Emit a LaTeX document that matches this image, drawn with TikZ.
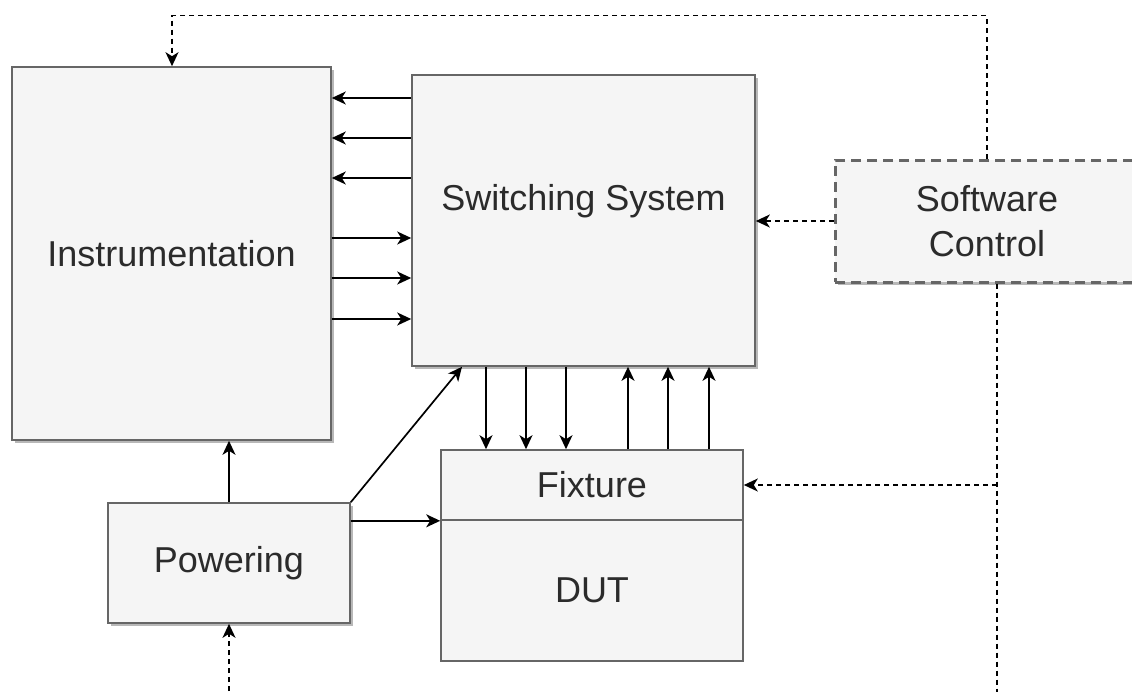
\documentclass[tikz,border=0pt]{standalone}
\usepackage{fontspec}
\setmainfont{Liberation Sans}
\usetikzlibrary{arrows.meta,shadows,calc}
\definecolor{boxfill}{HTML}{F5F5F5}
\definecolor{boxline}{HTML}{666666}
\definecolor{txt}{HTML}{2B2B2B}
\tikzset{
  block/.style={draw=boxline, fill=boxfill, line width=1.6pt, inner sep=0pt,
    text=txt, font=\fontsize{36}{45}\selectfont, align=center},
  shade3/.style={drop shadow={shadow xshift=3pt, shadow yshift=-3pt, opacity=1, fill=black!28}},
  link/.style={line width=1.7pt, -{Stealth[length=14pt,width=13pt,inset=4pt]}},
  ctrl/.style={link, dash pattern=on 5pt off 4pt},
  plain/.style={line width=1.7pt, dash pattern=on 5pt off 4pt},
}
\begin{document}
\begin{tikzpicture}[x=1pt,y=-1pt]
\useasboundingbox (0,0) rectangle (1132,691);
\clip (0,0) rectangle (1132,691);

% blocks
\node[block, shade3, minimum width=319pt, minimum height=373pt] (inst) at (171.5,253.5) {Instrumentation};
\node[block, shade3, minimum width=343pt, minimum height=291pt,
      label={[text=txt, font=\fontsize{36}{45}\selectfont, yshift=19pt]center:Switching System}] (sw) at (583.5,220.5) {};
\node[block, shade3, draw=boxline, line width=3pt, dash pattern=on 10pt off 6pt,
      minimum width=304pt, minimum height=122pt] (soft) at (987,221) {Software\\Control};
\node[block, minimum width=302pt, minimum height=141pt] (dut) at (592,590.5) {DUT};
\node[block, minimum width=302pt, minimum height=70pt] (fix) at (592,485) {Fixture};
\node[block, shade3, minimum width=242pt, minimum height=120pt] (pow) at (229,563) {Powering};

% signal lines between switching system and instrumentation
\foreach \y in {98,138,178}
  \draw[link] (sw.west |- 0,\y) -- (inst.east |- 0,\y);
\foreach \y in {238,278,319}
  \draw[link] (inst.east |- 0,\y) -- (sw.west |- 0,\y);

% signal lines between switching system and fixture
\foreach \x in {486,526,566}
  \draw[link] (sw.south -| \x,0) -- (fix.north -| \x,0);
\foreach \x in {628,668,709}
  \draw[link] (fix.north -| \x,0) -- (sw.south -| \x,0);

% power distribution
\draw[link] (pow.north) -- (inst.south -| pow.north);
\draw[link] (pow.north east) -- (sw.south -| 462,0);
\draw[link] (pow.east |- fix.south) -- (fix.south west);

% control lines
\coordinate (pin) at (229,700);
\draw[ctrl] (pin) -- (pow.south);
\draw[ctrl] (soft.north) -- ++(0,-143) -| (inst.north -| 172,0);
\draw[ctrl] (soft.west) -- (sw.east |- soft.west);
\coordinate (sout) at (997,700);
\draw[plain] (soft.south -| sout) -- (sout);
\draw[ctrl] (sout |- fix.east) -- (fix.east);
\end{tikzpicture}
\end{document}
